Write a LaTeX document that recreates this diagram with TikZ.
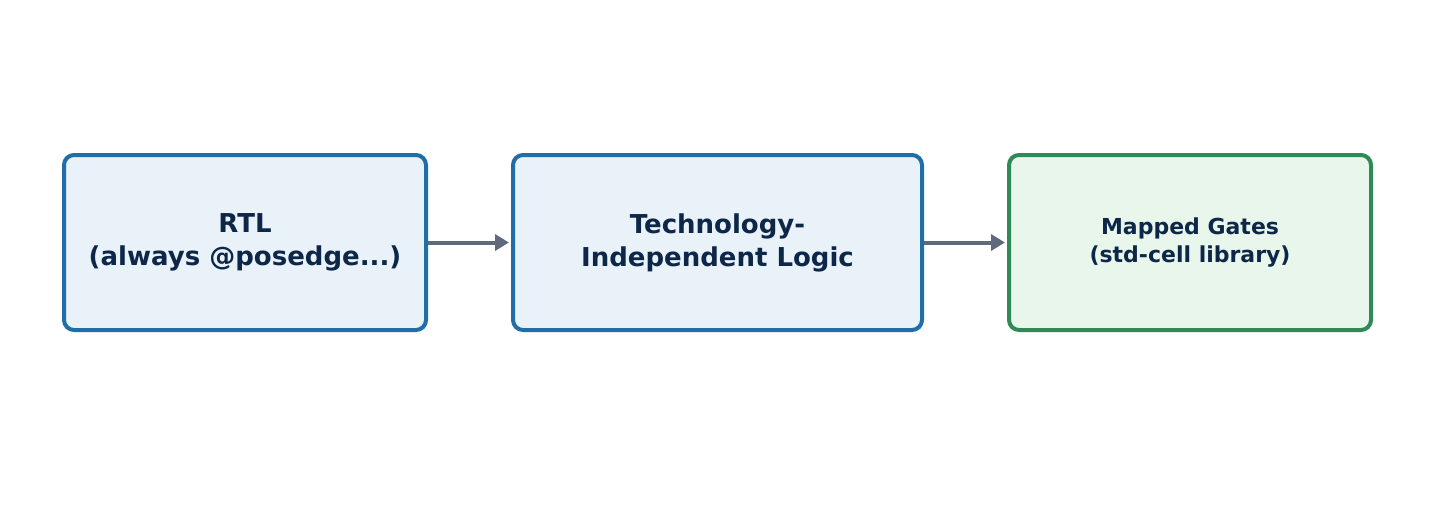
\documentclass[tikz,border=0pt]{standalone}
\usepackage{fontspec}
\setmainfont{DejaVu Sans}
\usetikzlibrary{arrows.meta}
\definecolor{bb}{HTML}{1F6EA8}
\definecolor{bf}{HTML}{EAF2F9}
\definecolor{gb}{HTML}{2E8B57}
\definecolor{gf}{HTML}{E8F6EC}
\definecolor{tx}{HTML}{0D2748}
\definecolor{ar}{HTML}{5F6B7A}
\begin{document}
\begin{tikzpicture}[x=1pt,y=-1pt,
 box/.style={draw=bb,fill=bf,line width=4pt,rounded corners=10pt,text=tx,font=\bfseries\fontsize{26}{33}\selectfont,align=center,inner sep=0pt},
 arr/.style={draw=ar,line width=4pt,-{Triangle[length=14pt,width=16pt]}}]
\useasboundingbox (0,0) rectangle (1434,532);
\node[box,minimum width=362pt,minimum height=175pt] (a) at (245,242.5) {RTL\\(always @posedge...)};
\node[box,minimum width=409pt,minimum height=175pt] (b) at (717.5,242.5) {Technology-\\Independent Logic};
\node[box,draw=gb,fill=gf,minimum width=362pt,minimum height=175pt,font=\bfseries\fontsize{22}{28}\selectfont] (c) at (1190,242.5) {Mapped Gates\\(std-cell library)};
\draw[arr] (a.east) -- ([xshift=-2pt]b.west);
\draw[arr] (b.east) -- ([xshift=-2pt]c.west);
\end{tikzpicture}
\end{document}
